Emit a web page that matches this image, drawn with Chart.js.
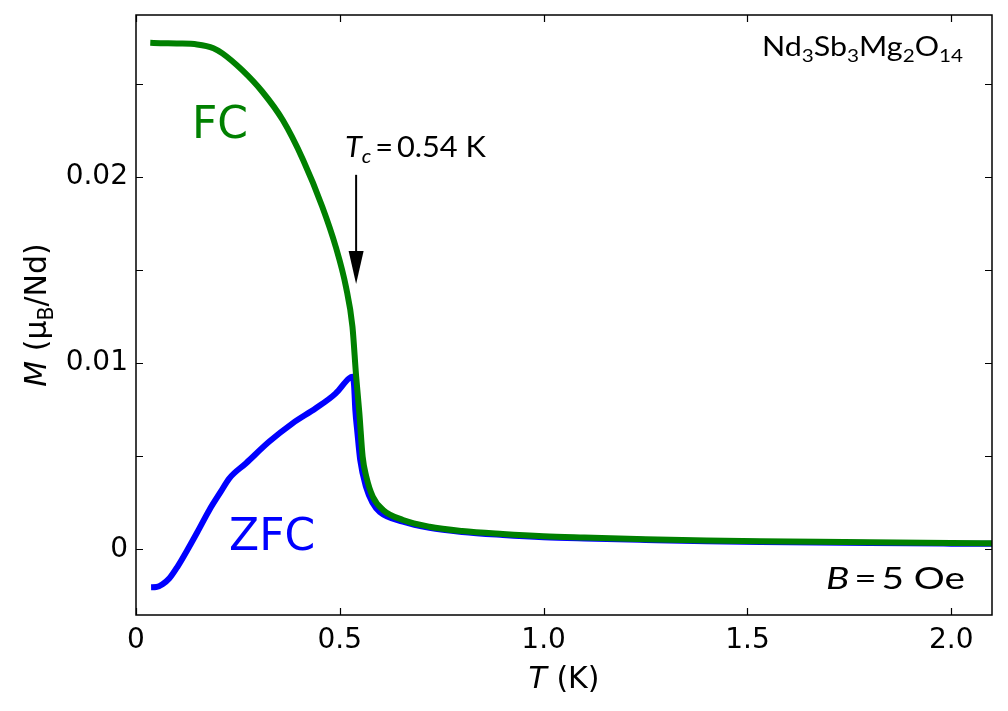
<!DOCTYPE html>
<html lang="en">
<head>
    <meta charset="UTF-8">
    <title>Nd3Sb3Mg2O14 FC / ZFC</title>
    <script src="https://cdn.jsdelivr.net/npm/chart.js"></script>
    <style>
        body { margin: 0; background: #fff; }
        #wrap { width: 1008px; height: 711px; position: relative; }
    </style>
</head>
<body>
    <div id="wrap"><canvas id="myChart"></canvas></div>

    <script>
        // Field-cooled curve (T in K, M in muB/Nd)
        const tempFC = [0.035, 0.06, 0.1, 0.15, 0.19, 0.212, 0.26, 0.31, 0.36, 0.41, 0.457, 0.49, 0.515, 0.531, 0.54,
            0.548, 0.556, 0.565, 0.581, 0.606, 0.655, 0.72, 0.8, 0.9, 1.0, 1.1, 1.25, 1.4, 1.6, 1.8, 2.0, 2.1];
        const magFC = [0.02719, 0.02717, 0.02715, 0.0271, 0.0269, 0.02662, 0.02573, 0.02456, 0.02304, 0.0209, 0.01839, 0.01624, 0.0141, 0.01195, 0.0093,
            0.0073, 0.00497, 0.0039, 0.00282, 0.00211, 0.00157, 0.00121, 0.00098, 0.00082, 0.0007, 0.00063, 0.00054, 0.00047, 0.00042, 0.00037, 0.00033, 0.00032];

        // Zero-field-cooled curve
        const tempZFC = [0.037, 0.05, 0.065, 0.082, 0.102, 0.126, 0.151, 0.18, 0.208, 0.229, 0.27, 0.327, 0.384, 0.441, 0.49, 0.523, 0.531,
            0.535, 0.538, 0.543, 0.55, 0.565, 0.58, 0.598, 0.655, 0.72, 0.8, 0.9, 1.0, 1.1, 1.25, 1.4, 1.6, 1.8, 2.0, 2.1];
        const magZFC = [-0.00204, -0.00203, -0.00188, -0.00156, -0.00093, -0.00004, 0.00094, 0.00211, 0.00309, 0.00381, 0.00462, 0.00578, 0.00676, 0.00757, 0.00837, 0.00918, 0.00926,
            0.0088, 0.0075, 0.0063, 0.0048, 0.0033, 0.0025, 0.0020, 0.00148, 0.00115, 0.00093, 0.00077, 0.00065, 0.00058, 0.0005, 0.00043, 0.00038, 0.00033, 0.0003, 0.00029];

        const xTicks = [0, 0.5, 1.0, 1.5, 2.0];
        const yTicks = [0, 0.01, 0.02];

        const tcValue = 0.54;
        const sansFont = '"DejaVu Sans", sans-serif';
        const noteFont = 'Lato, "Open Sans", sans-serif';

        // rich text: parts = [{t, it, sub}]
        function drawRich(ctx, x, y, parts, size, family, targetW) {
            const fontOf = p => (p.it ? 'italic ' : '') + (p.sub ? size * 0.68 : size) + 'px ' + family;
            let total = 0;
            parts.forEach(p => { ctx.font = fontOf(p); total += ctx.measureText(p.t).width; });
            const sx = targetW ? targetW / total : 1;
            ctx.save();
            ctx.translate(x, y);
            ctx.scale(sx, 1);
            let cx = 0;
            parts.forEach(p => {
                ctx.font = fontOf(p);
                ctx.fillText(p.t, cx, p.sub ? size * 0.22 : 0);
                cx += ctx.measureText(p.t).width;
            });
            ctx.restore();
            return total * sx;
        }

        function richWidth(ctx, parts, size, family) {
            let w = 0;
            parts.forEach(p => {
                ctx.font = (p.it ? 'italic ' : '') + (p.sub ? size * 0.68 : size) + 'px ' + family;
                w += ctx.measureText(p.t).width;
            });
            return w;
        }

        const decorPlugin = {
            id: 'decor',
            afterDraw(chart) {
                const ctx = chart.ctx;
                const a = chart.chartArea;
                const xs = chart.scales.x, ys = chart.scales.y;
                ctx.save();
                ctx.strokeStyle = '#000';
                ctx.fillStyle = '#000';

                // frame
                ctx.lineWidth = 1.5;
                ctx.strokeRect(a.left, a.top, a.right - a.left, a.bottom - a.top);

                // inward ticks on all four sides
                ctx.lineWidth = 1.2;
                const len = 7;
                ctx.beginPath();
                xs.ticks.forEach(t => {
                    const px = Math.round(xs.getPixelForValue(t.value)) + 0.5;
                    ctx.moveTo(px, a.bottom); ctx.lineTo(px, a.bottom - len);
                    ctx.moveTo(px, a.top); ctx.lineTo(px, a.top + len);
                });
                ys.ticks.forEach(t => {
                    const py = Math.round(ys.getPixelForValue(t.value)) + 0.5;
                    ctx.moveTo(a.left, py); ctx.lineTo(a.left + len, py);
                    ctx.moveTo(a.right, py); ctx.lineTo(a.right - len, py);
                });
                ctx.stroke();

                // Tc arrow
                const ax = xs.getPixelForValue(tcValue);
                const yStart = ys.getPixelForValue(0.0201);
                const yTip = ys.getPixelForValue(0.01424);
                ctx.lineWidth = 2;
                ctx.beginPath();
                ctx.moveTo(ax, yStart); ctx.lineTo(ax, yTip - 30);
                ctx.stroke();
                ctx.beginPath();
                ctx.moveTo(ax - 7.5, yTip - 33);
                ctx.lineTo(ax + 7.5, yTip - 33);
                ctx.lineTo(ax, yTip);
                ctx.closePath();
                ctx.fill();

                ctx.textBaseline = 'alphabetic';
                ctx.textAlign = 'left';

                // series labels
                ctx.fillStyle = '#008000';
                ctx.font = '44px ' + sansFont;
                ctx.fillText('FC', 192, 138);
                ctx.fillStyle = '#0000ff';
                ctx.fillText('ZFC', 229, 550);

                ctx.fillStyle = '#000';
                drawRich(ctx, 345, 157, [{ t: 'T', it: true }, { t: 'c', it: true, sub: true }, { t: '\u2009=\u20090.54 K' }], 28, noteFont, 141);
                drawRich(ctx, 826, 589, [{ t: 'B', it: true }, { t: '\u2009=\u20095 Oe' }], 31, noteFont, 139);
                drawRich(ctx, 762, 56, [{ t: 'Nd' }, { t: '3', sub: true }, { t: 'Sb' }, { t: '3', sub: true }, { t: 'Mg' }, { t: '2', sub: true }, { t: 'O' }, { t: '14', sub: true }], 26, noteFont, 201);

                // axis titles
                const tParts = [{ t: 'T', it: true }, { t: ' (K)' }];
                const tw = richWidth(ctx, tParts, 30, sansFont);
                drawRich(ctx, (a.left + a.right) / 2 - tw / 2, 688, tParts, 30, sansFont);

                const mParts = [{ t: 'M', it: true }, { t: ' (μ' }, { t: 'B', sub: true }, { t: '/Nd)' }];
                const mw = richWidth(ctx, mParts, 30, sansFont);
                ctx.save();
                ctx.translate(46, (a.top + a.bottom) / 2);
                ctx.rotate(-Math.PI / 2);
                drawRich(ctx, -mw / 2, 0, mParts, 30, sansFont);
                ctx.restore();

                ctx.restore();
            }
        };

        function noPad(s) {
            s.paddingTop = 0; s.paddingBottom = 0; s.paddingLeft = 0; s.paddingRight = 0;
        }

        const ctx = document.getElementById('myChart').getContext('2d');
        new Chart(ctx, {
            type: 'line',
            data: {
                datasets: [
                    {
                        label: 'FC',
                        data: tempFC.map((t, i) => ({ x: t, y: magFC[i] })),
                        borderColor: '#008000',
                        borderWidth: 6,
                        pointRadius: 0,
                        cubicInterpolationMode: 'monotone',
                        fill: false
                    },
                    {
                        label: 'ZFC',
                        data: tempZFC.map((t, i) => ({ x: t, y: magZFC[i] })),
                        borderColor: '#0000ff',
                        borderWidth: 6,
                        pointRadius: 0,
                        cubicInterpolationMode: 'monotone',
                        fill: false
                    }
                ]
            },
            options: {
                responsive: true,
                maintainAspectRatio: false,
                animation: false,
                layout: { padding: { top: 15, right: 16, left: 0, bottom: 0 } },
                plugins: { legend: { display: false }, tooltip: { enabled: false } },
                scales: {
                    x: {
                        type: 'linear',
                        min: 0,
                        max: 2.1,
                        afterFit: s => { s.height = 96; noPad(s); },
                        grid: { display: false, drawTicks: false },
                        border: { display: false },
                        ticks: {
                            stepSize: 0.5,
                            includeBounds: false,
                            padding: 9,
                            color: '#000',
                            font: { family: 'DejaVu Sans', size: 28 },
                            maxRotation: 0,
                            callback: v => {
                                const hit = xTicks.find(t => Math.abs(t - v) < 1e-6);
                                if (hit === undefined) return '';
                                return hit === 0 ? '0' : hit.toFixed(1);
                            }
                        }
                    },
                    y: {
                        type: 'linear',
                        min: -0.00353,
                        max: 0.02868,
                        afterFit: s => { s.width = 136; noPad(s); },
                        grid: { display: false, drawTicks: false },
                        border: { display: false },
                        ticks: {
                            stepSize: 0.005,
                            includeBounds: false,
                            padding: 8,
                            color: '#000',
                            font: { family: 'DejaVu Sans', size: 28 },
                            callback: v => {
                                const hit = yTicks.find(t => Math.abs(t - v) < 1e-7);
                                if (hit === undefined) return '';
                                return hit === 0 ? '0' : hit.toFixed(2);
                            }
                        }
                    }
                }
            },
            plugins: [decorPlugin]
        });
    </script>
</body>
</html>
